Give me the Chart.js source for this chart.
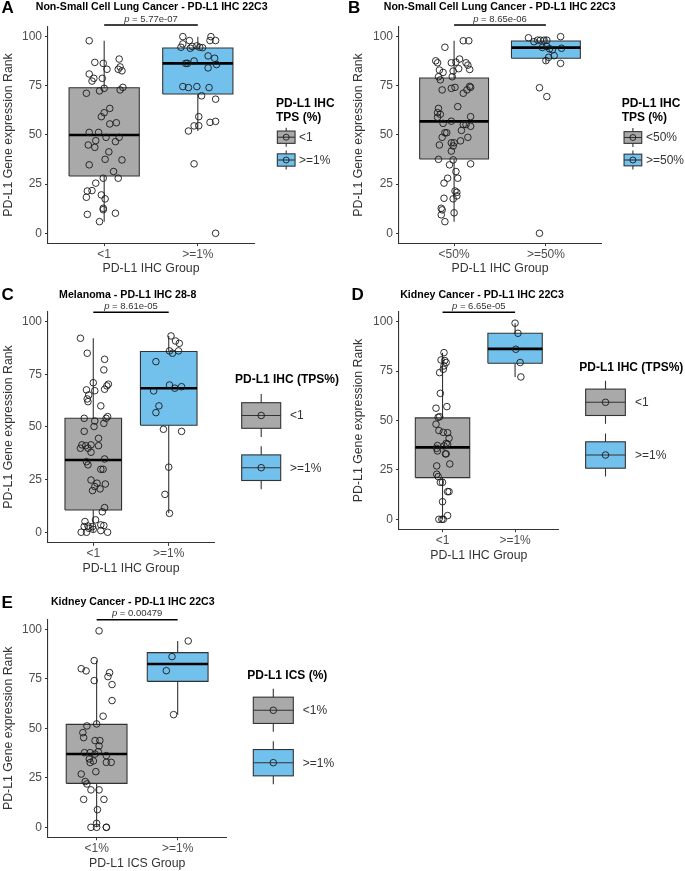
<!DOCTYPE html>
<html><head><meta charset="utf-8">
<script src="https://cdn.jsdelivr.net/npm/chart.js@4.4.1/dist/chart.umd.min.js"></script>
<style>
html,body{margin:0;padding:0;background:#fff;}
body{width:685px;height:871px;position:relative;overflow:hidden;}
canvas{position:absolute;}
</style></head><body>
<canvas id="cA"></canvas><canvas id="cB"></canvas><canvas id="cC"></canvas><canvas id="cD"></canvas><canvas id="cE"></canvas>
<script>
// ---------------- DATA ----------------
const yTicks = [0, 25, 50, 75, 100];
const yTitleText = 'PD-L1 Gene expression Rank';
const fillColors = ['#a9a9a9', '#72c1ec'];

// Panel A
const A_title = 'Non-Small Cell Lung Cancer - PD-L1 IHC 22C3';
const A_pValue = '5.77e-07';
const A_categories = ['<1', '>=1%'];
const A_xTitle = 'PD-L1 IHC Group';
const A_legendTitle = ['PD-L1 IHC', 'TPS (%)'];
const A_legendLabels = ['<1', '>=1%'];
const A_low = [5.9, 52.0];
const A_q1 = [29.1, 70.8];
const A_median = [50.0, 86.4];
const A_q3 = [74.0, 94.2];
const A_high = [97.9, 100];
const A_g1_y = [97.9,86.9,86.4,83.4,88.6,83.4,82.6,84.6,81.0,77.4,78.8,78.8,71.2,72.4,73.7,72.9,74.2,63.5,61.3,59.3,55.6,56.2,51.3,51.3,48.8,48.8,47.1,44.9,43.7,46.6,41.4,37.6,37.3,34.8,31.4,28.0,28.0,25.5,21.5,21.7,19.5,17.5,18.3,12.7,12.0,10.2,9.6,5.9];
const A_g1_x = [0.84,0.90,0.99,1.03,1.16,1.15,1.19,1.17,0.84,0.87,0.89,0.98,0.81,0.95,1.00,1.17,1.20,1.06,1.00,0.97,1.06,1.13,0.84,0.94,1.02,1.16,0.91,0.83,0.90,1.12,1.05,1.01,1.19,0.84,1.10,0.99,1.15,0.91,0.82,0.87,0.97,1.01,0.81,0.99,0.99,1.12,0.82,0.95];
const A_g2_y = [100,100,98,98,98,94.6,96.3,94.1,95.0,95.3,94.6,94.4,86.4,86.4,87.6,90.2,89.0,84.1,85.8,74.6,74.1,74.6,74.1,69.9,68.2,59.3,52.0,54.6,54.7,56.4,56.9,35.3,0];
const A_g2_x = [1.84,2.14,1.91,2.13,2.19,1.82,1.84,1.92,1.94,1.99,2.02,2.05,1.87,1.89,1.96,2.11,2.18,2.11,2.20,1.84,1.90,1.99,2.12,2.04,2.19,2.01,1.90,1.96,2.01,2.13,2.19,1.96,2.19];

// Panel B
const B_title = 'Non-Small Cell Lung Cancer - PD-L1 IHC 22C3';
const B_pValue = '8.65e-06';
const B_categories = ['<50%', '>=50%'];
const B_xTitle = 'PD-L1 IHC Group';
const B_legendTitle = ['PD-L1 IHC', 'TPS (%)'];
const B_legendLabels = ['<50%', '>=50%'];
const B_low = [5.9, 86.4];
const B_q1 = [37.8, 89.0];
const B_median = [56.9, 94.4];
const B_q3 = [79.0, 97.8];
const B_high = [97.9, 100];
const B_g1_y = [94.6,97.9,97.9,87.7,86.7,86.7,87.0,88.6,86.7,85.5,83.3,83.0,82.5,83.7,81.8,79.6,78.0,79.6,72.9,73.7,74.2,74.7,74.2,72.9,71.2,64.4,63.5,61.3,60.5,59.0,59.3,55.9,57.0,55.3,55.3,54.4,51.1,51.1,52.3,48.8,46.0,46.0,44.4,47.0,48.8,44.9,41.8,37.6,37.3,35.3,34.8,31.4,28.0,28.0,25.5,21.5,20.8,19.0,17.5,17.8,12.7,11.9,9.4,10.4,5.9];
const B_g1_x = [0.90,1.10,1.16,0.80,0.82,0.97,1.02,1.06,1.13,1.15,1.17,0.84,0.99,1.05,0.88,0.83,0.85,0.98,0.87,0.97,1.01,1.17,1.18,1.14,1.10,1.04,0.83,0.82,0.85,0.82,1.18,0.88,0.97,1.10,1.13,1.18,0.92,0.90,1.08,0.87,0.97,1.00,0.99,1.07,1.15,0.84,0.97,0.83,0.99,1.18,0.95,1.02,0.93,1.04,0.89,1.01,1.03,1.03,0.99,0.89,0.86,0.87,0.86,1.00,0.90];
const B_g2_y = [99.4,97.4,98.2,98.2,98.2,98.2,100,94.5,95.0,93.8,93.3,94.1,89.5,87.8,90.3,86.4,74.0,69.5,0];
const B_g2_x = [1.81,1.87,1.91,1.94,1.98,2.01,2.16,1.96,2.01,2.04,2.07,2.17,2.03,2.00,2.09,2.16,1.93,2.01,1.93];

// Panel C
const C_title = 'Melanoma - PD-L1 IHC 28-8';
const C_pValue = '8.61e-05';
const C_categories = ['<1', '>=1%'];
const C_xTitle = 'PD-L1 IHC Group';
const C_legendTitle = ['PD-L1 IHC (TPS%)'];
const C_legendLabels = ['<1', '>=1%'];
const C_low = [0, 9.0];
const C_q1 = [10.6, 50.8];
const C_median = [34.3, 68.4];
const C_q3 = [54.1, 85.8];
const C_high = [92.1, 93.2];
const C_g1_y = [92.1,85,82.1,77.1,71,67.9,69.5,70.3,67.6,67.2,65.2,63.3,62,60,54.9,54.1,54.1,52.8,51.7,50.2,47.9,44.6,41.5,41.1,41.5,41.1,39.9,39.9,38,34.8,33.5,32,29.9,29.9,24.8,23.3,22.9,21.7,20.6,19.8,11.7,9.7,5.1,5.9,3,2.7,2.7,3.5,3.2,1.9,1.4,0,0,0.8,0];
const C_g1_x = [0.83,0.92,1.15,1.14,1.00,1.15,1.18,1.20,0.91,1.02,0.94,0.92,0.93,1.10,1.19,1.17,0.88,1.02,1.14,1.01,0.88,1.07,0.85,0.90,0.97,1.07,0.93,0.83,0.97,1.15,0.91,0.93,1.10,1.13,0.97,1.05,1.16,1.02,1.09,0.99,1.15,1.12,0.89,1.03,0.93,0.99,0.88,1.10,1.14,0.94,1.00,0.84,0.91,1.10,1.19];
const C_g2_y = [93.2,90.8,89.7,86.1,85,86.1,81,69.9,68.4,69.1,67.1,60,56.8,48.9,47.9,30.9,18,9];
const C_g2_x = [2.03,2.09,2.14,2.01,2.05,2.13,1.83,2.01,2.08,2.17,1.80,1.87,1.83,1.93,2.17,2.00,1.95,2.01];

// Panel D
const D_title = 'Kidney Cancer - PD-L1 IHC 22C3';
const D_pValue = '6.65e-05';
const D_categories = ['<1', '>=1%'];
const D_xTitle = 'PD-L1 IHC Group';
const D_legendTitle = ['PD-L1 IHC (TPS%)'];
const D_legendLabels = ['<1', '>=1%'];
const D_low = [0, 72.0];
const D_q1 = [21.1, 78.9];
const D_median = [36.4, 86.2];
const D_q3 = [51.3, 94.1];
const D_high = [84.3, 99.2];
const D_g1_y = [84.3,80.6,80.3,79.3,77.6,75.9,74.2,63.7,57,56.2,51.9,51.6,48.1,44.9,44,43.8,41,38.4,38,37.1,37.3,35.9,34.6,33.1,33.1,28,27,22.8,21.6,18.7,18.7,14,14,8.9,1.9,0,0,0];
const D_g1_x = [1.02,0.98,1.03,1.05,1.02,1.01,0.96,0.97,1.06,0.91,0.96,0.94,0.91,0.95,1.01,1.07,1.09,1.05,1.07,1.02,0.93,0.92,0.93,1.04,1.05,1.10,0.92,0.92,0.94,0.97,1.00,1.07,1.09,1.00,1.07,0.95,0.99,1.01];
const D_g2_y = [99.2,94.1,86,79.3,72];
const D_g2_x = [2.00,2.04,2.01,2.07,2.08];

// Panel E
const E_title = 'Kidney Cancer - PD-L1 IHC 22C3';
const E_pValue = '0.00479';
const E_categories = ['<1%', '>=1%'];
const E_xTitle = 'PD-L1 ICS Group';
const E_legendTitle = ['PD-L1 ICS (%)'];
const E_legendLabels = ['<1%', '>=1%'];
const E_low = [0, 56.9];
const E_q1 = [22.2, 73.7];
const E_median = [37.0, 82.5];
const E_q3 = [52.0, 88.2];
const E_high = [84.2, 94.1];
const E_g1_y = [99.2,84.2,80.1,79,74.1,78.1,76.1,72.1,64,56.1,52.2,51.2,47.8,45.3,43.8,43.8,41.1,38.2,37.7,37.7,37,36.2,34.5,33.5,32.7,32.8,32.8,28.1,26.9,23.1,21.9,18.9,18.9,14.1,14.1,8.9,2,0,0,0,0];
const E_g1_x = [1.03,0.97,0.81,0.87,0.97,1.16,1.14,1.19,1.19,1.08,1.00,0.88,0.83,0.84,0.98,1.04,1.03,1.02,0.85,0.92,0.98,1.12,0.91,0.96,0.92,1.12,1.18,0.99,0.81,0.86,0.88,0.93,1.03,0.84,1.09,1.01,1.00,0.93,1.00,1.12,1.12];
const E_g2_y = [94.1,86.2,79.1,56.9];
const E_g2_x = [2.13,1.93,1.86,1.95];

// ---------------- LAYOUT (page pixel positions) ----------------
const FONT = "'Liberation Sans', Arial, Helvetica, sans-serif";
Chart.defaults.font.family = FONT;

const layouts = {
  A: {canvas:{l:0,t:0,w:342,h:280}, area:{l:48,r:254,t:26.8,b:243.1}, yTitleX:8.3, xTitleY:268.3,
      titleX:151.7, titleY:7.5, pY:19.8, bracketY:25, letter:{t:'A',x:1.5,y:12.5},
      legend:{titleX:276, titleYs:[104,117.3], keyCX:286.2, keyCYs:[137.2,160], keyW:17.7, keyH:12.3, whiskH:19, labelX:299, r:3}},
  B: {canvas:{l:342,t:0,w:343,h:280}, area:{l:399,r:601,t:26.8,b:243.1}, yTitleX:358.3, xTitleY:268.3,
      titleX:499.7, titleY:7.5, pY:19.5, bracketY:25, letter:{t:'B',x:348,y:12.5},
      legend:{titleX:621.7, titleYs:[104,117.3], keyCX:632.9, keyCYs:[137.5,160], keyW:17.7, keyH:11.7, whiskH:19, labelX:646, r:3}},
  C: {canvas:{l:0,t:280,w:342,h:300}, area:{l:48,r:214,t:311.1,b:542.8}, yTitleX:8.3, xTitleY:569,
      titleX:127.7, titleY:295, pY:306.3, bracketY:312.3, letter:{t:'C',x:1.5,y:300},
      legend:{titleX:235, titleYs:[380], keyCX:261.2, keyCYs:[415.5,467.7], keyW:39, keyH:25.6, whiskH:43, labelX:290, r:3.3}},
  D: {canvas:{l:342,t:280,w:343,h:300}, area:{l:399,r:558.6,t:311.7,b:529.2}, yTitleX:358.3, xTitleY:556,
      titleX:482, titleY:295, pY:306, bracketY:312.3, letter:{t:'D',x:351.5,y:299.5},
      legend:{titleX:579.3, titleYs:[367.3], keyCX:605.5, keyCYs:[402.3,455], keyW:39.7, keyH:26.4, whiskH:43, labelX:635, r:3.3}},
  E: {canvas:{l:0,t:580,w:342,h:291}, area:{l:48,r:226.3,t:619.4,b:837.2}, yTitleX:8.3, xTitleY:864,
      titleX:132.8, titleY:602.5, pY:613.7, bracketY:619.7, letter:{t:'E',x:1.5,y:608.3},
      legend:{titleX:247.3, titleYs:[676], keyCX:273.3, keyCYs:[710.3,762.7], keyW:40, keyH:26.3, whiskH:43, labelX:302.7, r:3.3}}
};

const panels = {
  A:{title:A_title,p:A_pValue,cats:A_categories,xTitle:A_xTitle,legTitle:A_legendTitle,legLabels:A_legendLabels,
     low:A_low,q1:A_q1,med:A_median,q3:A_q3,high:A_high,gx:[A_g1_x,A_g2_x],gy:[A_g1_y,A_g2_y]},
  B:{title:B_title,p:B_pValue,cats:B_categories,xTitle:B_xTitle,legTitle:B_legendTitle,legLabels:B_legendLabels,
     low:B_low,q1:B_q1,med:B_median,q3:B_q3,high:B_high,gx:[B_g1_x,B_g2_x],gy:[B_g1_y,B_g2_y]},
  C:{title:C_title,p:C_pValue,cats:C_categories,xTitle:C_xTitle,legTitle:C_legendTitle,legLabels:C_legendLabels,
     low:C_low,q1:C_q1,med:C_median,q3:C_q3,high:C_high,gx:[C_g1_x,C_g2_x],gy:[C_g1_y,C_g2_y]},
  D:{title:D_title,p:D_pValue,cats:D_categories,xTitle:D_xTitle,legTitle:D_legendTitle,legLabels:D_legendLabels,
     low:D_low,q1:D_q1,med:D_median,q3:D_q3,high:D_high,gx:[D_g1_x,D_g2_x],gy:[D_g1_y,D_g2_y]},
  E:{title:E_title,p:E_pValue,cats:E_categories,xTitle:E_xTitle,legTitle:E_legendTitle,legLabels:E_legendLabels,
     low:E_low,q1:E_q1,med:E_median,q3:E_q3,high:E_high,gx:[E_g1_x,E_g2_x],gy:[E_g1_y,E_g2_y]}
};

const BOX_HALF = 0.375;
const AX_TITLE_SIZE = 12.3;
const AX_LH = AX_TITLE_SIZE * 1.2;

function buildDatasets(P) {
  const ds = [];
  for (let i = 0; i < 2; i++) {
    const c = i + 1;
    ds.push({type:'line', showLine:false, data:P.gx[i].map((x,k)=>({x:x, y:P.gy[i][k]})),
      pointRadius:3.3, pointHoverRadius:3.3, pointBorderWidth:0.9, pointBorderColor:'#1a1a1a',
      pointBackgroundColor:'rgba(0,0,0,0)', borderColor:'#1a1a1a', order:0});
    ds.push({type:'line', data:[{x:c-BOX_HALF,y:P.med[i]},{x:c+BOX_HALF,y:P.med[i]}],
      borderColor:'#000', borderWidth:2.6, pointRadius:0, fill:false, order:1});
    ds.push({type:'line', data:[{x:c-BOX_HALF,y:P.q1[i]},{x:c+BOX_HALF,y:P.q1[i]},{x:c+BOX_HALF,y:P.q3[i]},{x:c-BOX_HALF,y:P.q3[i]},{x:c-BOX_HALF,y:P.q1[i]}],
      borderColor:'#333', borderWidth:1.1, pointRadius:0, fill:false, order:2, borderJoinStyle:'miter'});
    ds.push({type:'line', data:[{x:c-BOX_HALF,y:P.q3[i]},{x:c+BOX_HALF,y:P.q3[i]}],
      borderWidth:0, borderColor:'rgba(0,0,0,0)', backgroundColor:fillColors[i], fill:{value:P.q1[i]}, pointRadius:0, order:3});
    ds.push({type:'line', data:[{x:c,y:P.low[i]},{x:c,y:P.high[i]}],
      borderColor:'#333', borderWidth:1.1, pointRadius:0, fill:false, order:4});
  }
  return ds;
}

function decorPlugin(P, L) {
  return {
    id: 'decor',
    afterDraw(chart) {
      const ctx = chart.ctx, ox = L.canvas.l, oy = L.canvas.t;
      ctx.save();
      // panel letter
      ctx.fillStyle = '#000'; ctx.textAlign = 'left'; ctx.textBaseline = 'alphabetic';
      ctx.font = 'bold 17px ' + FONT;
      ctx.fillText(L.letter.t, L.letter.x - ox, L.letter.y - oy);
      // title
      ctx.font = 'bold 10.6px ' + FONT; ctx.textAlign = 'center'; ctx.textBaseline = 'middle';
      ctx.fillText(P.title, L.titleX - ox, L.titleY - oy);
      // bracket
      const xs = chart.scales.x;
      const x1 = xs.getPixelForValue(1), x2 = xs.getPixelForValue(2);
      ctx.strokeStyle = '#000'; ctx.lineWidth = 1.4;
      ctx.beginPath(); ctx.moveTo(x1, L.bracketY - oy); ctx.lineTo(x2, L.bracketY - oy); ctx.stroke();
      // p-value text
      const pSize = 9.5;
      ctx.fillStyle = '#333'; ctx.textAlign = 'left';
      ctx.font = 'italic ' + pSize + 'px ' + FONT;
      const w1 = ctx.measureText('p').width;
      ctx.font = pSize + 'px ' + FONT;
      const rest = ' = ' + P.p;
      const w2 = ctx.measureText(rest).width;
      const sx = (x1 + x2) / 2 - (w1 + w2) / 2;
      ctx.font = 'italic ' + pSize + 'px ' + FONT;
      ctx.fillText('p', sx, L.pY - oy);
      ctx.font = pSize + 'px ' + FONT;
      ctx.fillText(rest, sx + w1, L.pY - oy);
      // legend
      const G = L.legend;
      ctx.fillStyle = '#000'; ctx.font = 'bold 12px ' + FONT; ctx.textAlign = 'left'; ctx.textBaseline = 'middle';
      P.legTitle.forEach((t, k) => ctx.fillText(t, G.titleX - ox, G.titleYs[k] - oy));
      for (let i = 0; i < 2; i++) {
        const cx = G.keyCX - ox, cy = G.keyCYs[i] - oy;
        ctx.strokeStyle = '#333'; ctx.lineWidth = 1.1;
        ctx.beginPath(); ctx.moveTo(cx, cy - G.whiskH/2); ctx.lineTo(cx, cy + G.whiskH/2); ctx.stroke();
        ctx.fillStyle = fillColors[i];
        ctx.fillRect(cx - G.keyW/2, cy - G.keyH/2, G.keyW, G.keyH);
        ctx.strokeRect(cx - G.keyW/2, cy - G.keyH/2, G.keyW, G.keyH);
        ctx.beginPath(); ctx.moveTo(cx - G.keyW/2, cy); ctx.lineTo(cx + G.keyW/2, cy); ctx.stroke();
        ctx.beginPath(); ctx.lineWidth = 0.9; ctx.strokeStyle = '#1a1a1a';
        ctx.arc(cx, cy, G.r, 0, Math.PI * 2); ctx.stroke();
        ctx.fillStyle = '#333'; ctx.font = '12px ' + FONT;
        ctx.fillText(P.legLabels[i], G.labelX - ox, cy + 0.5);
      }
      ctx.restore();
    }
  };
}

function buildChart(key) {
  const P = panels[key], L = layouts[key];
  const cv = document.getElementById('c' + key);
  cv.width = L.canvas.w; cv.height = L.canvas.h;
  cv.style.left = L.canvas.l + 'px'; cv.style.top = L.canvas.t + 'px';
  cv.style.width = L.canvas.w + 'px'; cv.style.height = L.canvas.h + 'px';
  const ox = L.canvas.l, oy = L.canvas.t;
  const yScaleLeft = L.yTitleX - ox - AX_LH / 2;
  const yW = (L.area.l - ox) - yScaleLeft;
  const xH = L.xTitleY - L.area.b + AX_LH / 2;
  const pad = {
    left: yScaleLeft,
    top: L.area.t - oy,
    right: (ox + L.canvas.w) - L.area.r,
    bottom: (oy + L.canvas.h) - L.area.b - xH
  };
  new Chart(cv, {
    type: 'line',
    data: { datasets: buildDatasets(P) },
    options: {
      responsive: false, animation: false, devicePixelRatio: 1,
      layout: { padding: pad },
      plugins: { legend: { display: false }, tooltip: { enabled: false }, title: { display: false } },
      scales: {
        x: {
          type: 'linear', min: 0.4, max: 2.6,
          afterBuildTicks: s => { s.ticks = P.cats.map((c, i) => ({ value: i + 1 })); },
          afterFit: s => { s.height = xH; },
          ticks: { callback: v => P.cats[Math.round(v) - 1], color: '#4d4d4d', font: { size: 12 }, padding: 1, maxRotation: 0, autoSkip: false },
          grid: { display: true, drawOnChartArea: false, drawTicks: true, tickLength: 3, color: '#333', lineWidth: 1 },
          border: { display: true, color: '#333', width: 1.1 },
          title: { display: true, text: P.xTitle, color: '#333', font: { size: AX_TITLE_SIZE }, padding: { top: 0, bottom: 0 } }
        },
        y: {
          type: 'linear', min: -5, max: 105,
          afterBuildTicks: s => { s.ticks = yTicks.map(v => ({ value: v })); },
          afterFit: s => { s.width = yW; },
          ticks: { color: '#4d4d4d', font: { size: 12 }, padding: 3 },
          grid: { display: true, drawOnChartArea: false, drawTicks: true, tickLength: 3, color: '#333', lineWidth: 1 },
          border: { display: true, color: '#333', width: 1.1 },
          title: { display: true, text: yTitleText, color: '#333', font: { size: AX_TITLE_SIZE }, padding: { top: 0, bottom: 0 } }
        }
      }
    },
    plugins: [decorPlugin(P, L)]
  });
}

['A', 'B', 'C', 'D', 'E'].forEach(buildChart);
</script>
</body></html>
